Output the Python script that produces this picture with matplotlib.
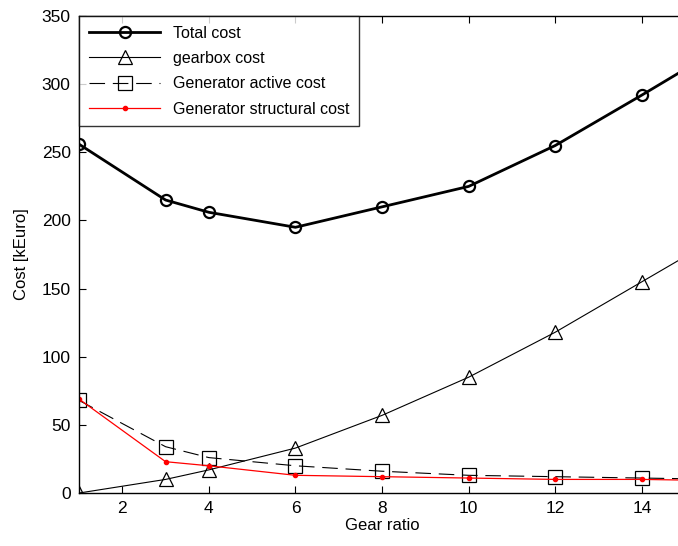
import matplotlib
matplotlib.use('Agg')
import matplotlib.pyplot as plt

plt.rcParams['font.family'] = ['Liberation Sans', 'DejaVu Sans']
plt.rcParams['font.size'] = 10

# gear ratios (last point lies beyond the axis and gets clipped)
gear = [1, 3, 4, 6, 8, 10, 12, 14, 16]

total_cost = [256, 215, 206, 195, 210, 225, 255, 292, 330]
gearbox_cost = [0, 10, 17, 33, 57, 85, 118, 155, 192]
gen_active_cost = [68, 34, 26, 20, 16, 13, 12, 11, 10]
gen_struct_cost = [69, 23, 20, 13, 12, 11, 10, 10, 9]

xticks = [2, 4, 6, 8, 10, 12, 14]
yticks = [0, 50, 100, 150, 200, 250, 300, 350]

fig = plt.figure(figsize=(6.78, 5.46), dpi=100)
ax = fig.add_axes([0.1165, 0.097, 0.894, 0.8736])

ax.plot(gear, total_cost, 'k-o', lw=2, ms=8, mfc='none', mew=1.6,
        label='Total cost')
ax.plot(gear, gearbox_cost, 'k-^', lw=0.8, ms=10, mfc='none', mew=0.9,
        label='gearbox cost')
ax.plot(gear, gen_active_cost, 'k--s', lw=0.8, ms=10, mfc='none', mew=0.9,
        dashes=(14, 7), label='Generator active cost')
ax.plot(gear, gen_struct_cost, 'r-o', lw=0.9, ms=3, label='Generator structural cost')

ax.set_xlim(1, 15)
ax.set_ylim(0, 350)
ax.set_xticks(xticks)
ax.set_yticks(yticks)
ax.tick_params(direction='in', top=True, right=True, labelsize=12.5, length=5, pad=6)
ax.set_xlabel('Gear ratio', fontsize=12, labelpad=1)
ax.set_ylabel('Cost [kEuro]', fontsize=12, labelpad=9)
for s in ax.spines.values():
    s.set_linewidth(1.0)

lgd = ax.legend(loc='upper left', fontsize=11.5, frameon=True, fancybox=False,
                edgecolor='k', handlelength=4.5, handletextpad=0.8,
                borderaxespad=0, labelspacing=0.65, borderpad=0.6)
lgd.get_frame().set_linewidth(1.0)

fig.savefig('out.png', dpi=100)
